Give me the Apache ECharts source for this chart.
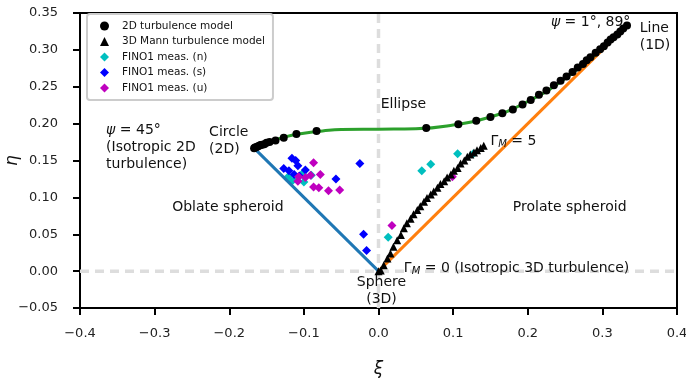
<!DOCTYPE html>
<html>
<head>
<meta charset="utf-8">
<script src="https://cdn.jsdelivr.net/npm/echarts@6/dist/echarts.min.js"></script>
<style>
  html, body { margin: 0; padding: 0; background: #fff; }
  #chart { width: 686px; height: 383px; }
</style>
</head>
<body>
<div id="chart"></div>
<script>
// invariant-map limits
const circleLine = [[-0.1667, 0.1667], [0, 0]];
const lineLimit = [[0, 0], [0.3333, 0.3333]];
const twoCompCurve = [[-0.1667, 0.1667], [-0.15, 0.174], [-0.125, 0.182], [-0.1, 0.187], [-0.075, 0.190],
  [-0.05, 0.192], [0, 0.1925], [0.05, 0.193], [0.1, 0.198], [0.15, 0.209], [0.2, 0.230],
  [0.25, 0.261], [0.3, 0.302], [0.3333, 0.3333]];
const zeroV = [[0, -0.05], [0, 0.35]];
const zeroH = [[-0.4, 0], [0.4, 0]];

// 2D turbulence model (circles)
const model2D = [[-0.1667, 0.1667], [-0.1655, 0.1675], [-0.164, 0.168], [-0.162, 0.169], [-0.160, 0.170],
  [-0.158, 0.171], [-0.156, 0.1715], [-0.153, 0.172], [-0.150, 0.174], [-0.146, 0.175], [-0.138, 0.177],
  [-0.127, 0.181], [-0.110, 0.186], [-0.083, 0.190],
  [0.064, 0.194], [0.107, 0.199], [0.131, 0.204], [0.150, 0.209],
  [0.166, 0.214], [0.180, 0.219], [0.193, 0.226], [0.204, 0.232], [0.215, 0.239], [0.225, 0.245],
  [0.235, 0.252], [0.244, 0.258], [0.252, 0.264], [0.260, 0.270], [0.267, 0.276], [0.274, 0.281],
  [0.279, 0.286], [0.284, 0.290], [0.291, 0.296], [0.297, 0.301], [0.302, 0.305], [0.307, 0.310],
  [0.311, 0.314], [0.315, 0.317], [0.320, 0.321], [0.324, 0.325], [0.328, 0.329], [0.333, 0.333]];

// 3D Mann turbulence model (triangles)
const modelMann = [[0, 0], [0.003, 0.001], [0.007, 0.008], [0.012, 0.017], [0.016, 0.024], [0.020, 0.033],
  [0.025, 0.042], [0.030, 0.049], [0.034, 0.058], [0.038, 0.065], [0.043, 0.071], [0.047, 0.077],
  [0.052, 0.083], [0.056, 0.088], [0.061, 0.094], [0.065, 0.099], [0.070, 0.104], [0.074, 0.108],
  [0.079, 0.113], [0.083, 0.118], [0.088, 0.122], [0.092, 0.127], [0.097, 0.131], [0.101, 0.136],
  [0.106, 0.140], [0.110, 0.146], [0.115, 0.150], [0.119, 0.155], [0.123, 0.158], [0.128, 0.161],
  [0.132, 0.164], [0.137, 0.167], [0.141, 0.170]];

// FINO1 measurements
const finoN = [[-0.121, 0.128], [-0.116, 0.122], [-0.110, 0.126], [-0.102, 0.132], [-0.100, 0.121],
  [-0.090, 0.130], [0.013, 0.046], [0.058, 0.136], [0.070, 0.145], [0.106, 0.159], [0.127, 0.159]];
const finoS = [[-0.116, 0.153], [-0.111, 0.150], [-0.108, 0.143], [-0.127, 0.139], [-0.120, 0.136],
  [-0.113, 0.131], [-0.106, 0.129], [-0.098, 0.137], [-0.057, 0.125], [-0.025, 0.146],
  [-0.020, 0.050], [-0.016, 0.028]];
const finoU = [[-0.087, 0.147], [-0.107, 0.128], [-0.108, 0.122], [-0.098, 0.127], [-0.091, 0.130],
  [-0.078, 0.131], [-0.087, 0.114], [-0.080, 0.113], [-0.067, 0.109], [-0.052, 0.110],
  [0.018, 0.062], [0.099, 0.128]];

const FONT = 'DejaVu Sans';
const chart = echarts.init(document.getElementById('chart'), null, { renderer: 'canvas' });

const minus = s => s.replace('-', '\u2212');

chart.setOption({
  animation: false,
  backgroundColor: '#fff',
  textStyle: { fontFamily: FONT },
  grid: { left: 80, right: 9, top: 13, bottom: 75, outerBoundsMode: 'none', containLabel: false,
    show: true, borderColor: '#000', borderWidth: 2 },
  legend: {
    orient: 'vertical', left: 87, top: 14,
    padding: [5, 8, 5, 13], itemGap: 1.5, itemWidth: 9, itemHeight: 9,
    backgroundColor: 'rgba(255,255,255,0.85)', borderColor: '#cccccc', borderWidth: 2, borderRadius: 3,
    textStyle: { fontFamily: FONT, fontSize: 10.5, color: '#111', lineHeight: 14, padding: [0, 0, 0, 8] },
    data: ['2D turbulence model', '3D Mann turbulence model', 'FINO1 meas. (n)', 'FINO1 meas. (s)', 'FINO1 meas. (u)']
  },
  xAxis: {
    type: 'value', min: -0.4, max: 0.4, interval: 0.1,
    name: '\u03be', nameLocation: 'middle', nameGap: 53, nameMoveOverlap: false,
    nameTextStyle: { fontFamily: FONT, fontSize: 17, fontStyle: 'italic', color: '#111' },
    axisLine: { onZero: false, lineStyle: { color: '#000', width: 2 } },
    axisTick: { length: 7, lineStyle: { color: '#000', width: 2 } },
    axisLabel: { fontFamily: FONT, fontSize: 13, color: '#222', margin: 19, formatter: v => minus(v.toFixed(1)) },
    splitLine: { show: false }
  },
  yAxis: {
    type: 'value', min: -0.05, max: 0.35, interval: 0.05,
    name: '\u03b7', nameLocation: 'middle', nameGap: 59, nameMoveOverlap: false,
    nameTextStyle: { fontFamily: FONT, fontSize: 17, fontStyle: 'italic', color: '#111' },
    axisLine: { onZero: false, lineStyle: { color: '#000', width: 2 } },
    axisTick: { length: 7, lineStyle: { color: '#000', width: 2 } },
    axisLabel: { fontFamily: FONT, fontSize: 13, color: '#222', margin: 22, formatter: v => minus(v.toFixed(2)) },
    splitLine: { show: false }
  },
  series: [
    { type: 'line', data: zeroV, showSymbol: false, z: 1, silent: true,
      lineStyle: { color: '#dddddd', width: 3.5, type: [9, 6] } },
    { type: 'line', data: zeroH, showSymbol: false, z: 1, silent: true,
      lineStyle: { color: '#dddddd', width: 3.5, type: [9, 6] } },
    { name: 'FINO1 meas. (n)', type: 'scatter', data: finoN, symbol: 'diamond', symbolSize: 9, z: 2,
      itemStyle: { color: '#00bfbf', opacity: 1 } },
    { name: 'FINO1 meas. (s)', type: 'scatter', data: finoS, symbol: 'diamond', symbolSize: 9, z: 2,
      itemStyle: { color: '#0000ff', opacity: 1 } },
    { name: 'FINO1 meas. (u)', type: 'scatter', data: finoU, symbol: 'diamond', symbolSize: 9, z: 2,
      itemStyle: { color: '#bf00bf', opacity: 1 } },
    { type: 'line', data: circleLine, showSymbol: false, z: 3, lineStyle: { color: '#1f77b4', width: 3 } },
    { type: 'line', data: lineLimit, showSymbol: false, z: 3, lineStyle: { color: '#ff7f0e', width: 3 } },
    { type: 'line', data: twoCompCurve, showSymbol: false, smooth: true, z: 3,
      lineStyle: { color: '#2ca02c', width: 3 } },
    { name: '2D turbulence model', type: 'scatter', data: model2D, symbol: 'circle', symbolSize: 8, z: 4,
      itemStyle: { color: '#000', opacity: 1 } },
    { name: '3D Mann turbulence model', type: 'scatter', data: modelMann, symbol: 'triangle', symbolSize: 8, z: 4,
      itemStyle: { color: '#000', opacity: 1 } }
  ]
});

// text annotations placed in data coordinates
const annotations = [
  { at: [-0.365, 0.168], text: '{i|\u03c8} = 45\u00b0\n(Isotropic 2D\nturbulence)', align: 'left' },
  { at: [-0.227, 0.177], text: 'Circle\n(2D)', align: 'left' },
  { at: [0.003, 0.226], text: 'Ellipse', align: 'left' },
  { at: [-0.2765, 0.087], text: 'Oblate spheroid', align: 'left' },
  { at: [0.180, 0.087], text: 'Prolate spheroid', align: 'left' },
  { at: [0.004, -0.027], text: 'Sphere\n(3D)', align: 'center' },
  { at: [0.034, 0.004], text: '\u0393{s|M} = 0 (Isotropic 3D turbulence)', align: 'left' },
  { at: [0.150, 0.176], text: '\u0393{s|M} = 5', align: 'left' },
  { at: [0.231, 0.337], text: '{i|\u03c8} = 1\u00b0, 89\u00b0', align: 'left' },
  { at: [0.350, 0.318], text: 'Line\n(1D)', align: 'left' }
];

const graphic = annotations.map(a => {
  const p = chart.convertToPixel({ gridIndex: 0 }, a.at);
  return {
    type: 'text', x: p[0], y: p[1], z: 10,
    style: {
      text: a.text, fill: '#111',
      fontFamily: FONT, fontSize: 14, lineHeight: 17,
      align: a.align, verticalAlign: 'middle',
      rich: {
        i: { fontFamily: FONT, fontSize: 14, fontStyle: 'italic', fill: '#111', lineHeight: 17 },
        s: { fontFamily: FONT, fontSize: 10, fontStyle: 'italic', fill: '#111', lineHeight: 10, verticalAlign: 'bottom' }
      }
    }
  };
});
chart.setOption({ graphic: graphic });
</script>
</body>
</html>
